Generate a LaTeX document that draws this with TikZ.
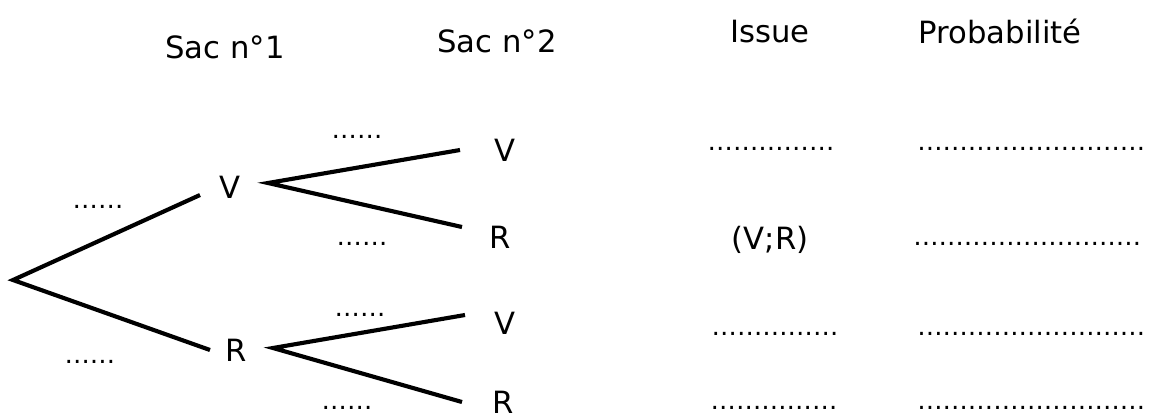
\documentclass[tikz,border=0pt]{standalone}
\usepackage{fontspec}
\setmainfont{DejaVu Sans}
\begin{document}
\begin{tikzpicture}[x=0.75pt,y=-0.75pt,
  lbl/.style={font=\fontsize{23}{27}\selectfont, inner sep=0pt},
  hdr/.style={font=\fontsize{23}{27}\selectfont, inner sep=0pt},
  dotsty/.style={font=\fontsize{19}{22}\selectfont, inner sep=0pt},
  branch/.style={line width=3.1pt, line join=miter}]
\useasboundingbox (0,0) rectangle (1165,419);
% headers
\node[hdr] (h1) at (225,47) {Sac n°1};
\node[hdr] (h2) at (497,41) {Sac n°2};
\node[hdr] (h3) at (770,32) {Issue};
\node[hdr] (h4) at (1000,31) {Probabilité};
% tree coordinates
\coordinate (root) at (13,280);
\coordinate (v1in) at (200,195);
\coordinate (r1in) at (210,350);
\coordinate (v1out) at (268,183);
\coordinate (r1out) at (273,348);
\coordinate (vvin) at (460,150);
\coordinate (vrin) at (462,227);
\coordinate (rvin) at (465,315);
\coordinate (rrin) at (462,402);
% labels
\node[lbl] (v1) at (230,187) {V};
\node[lbl] (r1) at (236,350) {R};
\node[lbl] (vv) at (505,150) {V};
\node[lbl] (vr) at (500,237) {R};
\node[lbl] (rv) at (505,323) {V};
\node[lbl] (rr) at (503,402) {R};
% branch probabilities
\node[dotsty] (p1) at (98,207) {……};
\node[dotsty] (p2) at (90,362) {……};
\node[dotsty] (p3) at (357,137) {……};
\node[dotsty] (p4) at (362,244) {……};
\node[dotsty] (p5) at (360,315) {……};
\node[dotsty] (p6) at (347,408) {……};
% branches
\draw[branch] (v1in) -- (root) -- (r1in);
\draw[branch] (vvin) -- (v1out) -- (vrin);
\draw[branch] (rvin) -- (r1out) -- (rrin);
% issues
\node[dotsty] (i1) at (771,149) {……………};
\node[lbl] (i2) at (770,240) {(V;R)};
\node[dotsty] (i3) at (775,334) {……………};
\node[dotsty] (i4) at (774,408) {……………};
% probabilities
\node[dotsty, anchor=west] (q1) at (917,149) {………………………};
\node[dotsty, anchor=west] (q2) at (913,244) {………………………};
\node[dotsty, anchor=west] (q3) at (917,334) {………………………};
\node[dotsty, anchor=west] (q4) at (917,408) {………………………};
\end{tikzpicture}
\end{document}
